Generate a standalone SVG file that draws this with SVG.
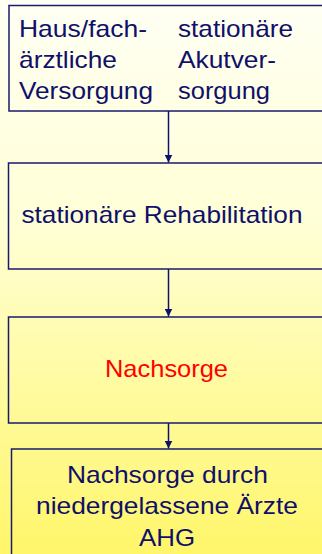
<svg xmlns="http://www.w3.org/2000/svg" width="322" height="554" viewBox="0 0 322 554">
<defs>
<linearGradient id="bg" x1="0" y1="0" x2="0" y2="1">
<stop offset="0" stop-color="#FFFFF4"/>
<stop offset="0.4" stop-color="#FFFFD6"/>
<stop offset="1" stop-color="#FFF66A"/>
</linearGradient>
<marker id="arr" markerWidth="8" markerHeight="8" refX="8" refY="4" orient="auto" markerUnits="userSpaceOnUse" viewBox="0 0 8 8">
<path d="M0,0 L8,4 L0,8 Z" fill="#10106E"/>
</marker>
</defs>
<style>
.box{fill:none;stroke:#1A1A6E;stroke-width:1.5}
.t{font-family:"Liberation Sans",Arial,sans-serif;font-size:24px;fill:#10106A}
.red{fill:#FF0000}
.conn{stroke:#10106E;stroke-width:1.5;fill:none}
</style>
<rect x="0" y="0" width="322" height="554" fill="url(#bg)"/>
<g id="node1">
<rect class="box" x="9" y="5.5" width="330" height="105.5"/>
<text class="t" x="19" y="37" textLength="128" lengthAdjust="spacingAndGlyphs">Haus/fach-</text>
<text class="t" x="19" y="68" textLength="98" lengthAdjust="spacingAndGlyphs">ärztliche</text>
<text class="t" x="19" y="99" textLength="134" lengthAdjust="spacingAndGlyphs">Versorgung</text>
<text class="t" x="178" y="37" textLength="115" lengthAdjust="spacingAndGlyphs">stationäre</text>
<text class="t" x="178" y="68" textLength="98" lengthAdjust="spacingAndGlyphs">Akutver-</text>
<text class="t" x="178" y="99" textLength="92" lengthAdjust="spacingAndGlyphs">sorgung</text>
</g>
<g id="node2">
<rect class="box" x="8.5" y="163" width="330" height="106"/>
<text class="t" x="21.5" y="223" textLength="281" lengthAdjust="spacingAndGlyphs">stationäre Rehabilitation</text>
</g>
<g id="node3">
<rect class="box" x="8.5" y="317" width="330" height="106"/>
<text class="t red" x="105" y="377" textLength="123" lengthAdjust="spacingAndGlyphs">Nachsorge</text>
</g>
<g id="node4">
<rect class="box" x="11.5" y="449" width="330" height="120"/>
<text class="t" x="67" y="483" textLength="201" lengthAdjust="spacingAndGlyphs">Nachsorge durch</text>
<text class="t" x="36" y="514" textLength="262" lengthAdjust="spacingAndGlyphs">niedergelassene Ärzte</text>
<text class="t" x="139" y="546" textLength="56" lengthAdjust="spacingAndGlyphs">AHG</text>
</g>
<g id="connectors">
<line class="conn" x1="168.5" y1="111" x2="168.5" y2="162.5" marker-end="url(#arr)"/>
<line class="conn" x1="168.5" y1="269" x2="168.5" y2="316.5" marker-end="url(#arr)"/>
<line class="conn" x1="168.5" y1="423" x2="168.5" y2="448.5" marker-end="url(#arr)"/>
</g>
</svg>
